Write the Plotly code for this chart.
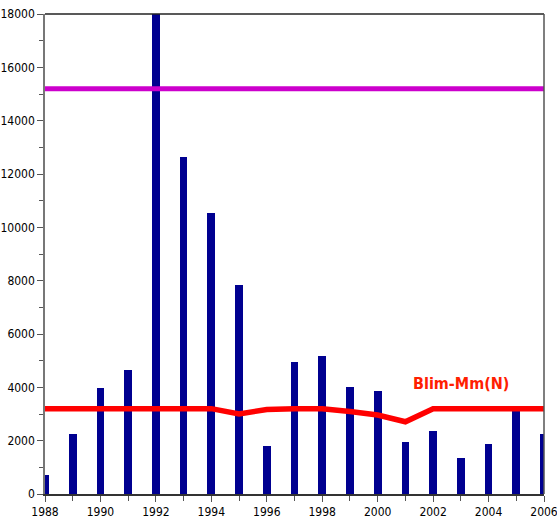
import plotly.graph_objects as go

years = list(range(1988, 2007))
recruits = [700, 2250, 3975, 4650, 18600, 12640, 10540, 7840, 1800, 4960,
            5185, 4025, 3875, 1940, 2360, 1360, 1875, 3150, 2240]
blim_mm = [3200, 3200, 3200, 3200, 3200, 3200, 3200, 3000, 3170, 3200,
           3200, 3090, 2960, 2710, 3200, 3200, 3200, 3200, 3200]
bpa_years = [1988, 2006]
bpa_values = [15200, 15200]
label_text = "<b>Blim-Mm(N)</b>"
label_pos = (2003.0, 4150)

font_family = "DejaVu Sans Condensed, Liberation Sans Narrow, Arial Narrow, Liberation Sans, Arial, sans-serif"

fig = go.Figure()
fig.add_trace(go.Bar(x=years, y=recruits, width=0.28,
                     marker=dict(color="#000090", line=dict(width=0)),
                     showlegend=False))
fig.add_trace(go.Scatter(x=years, y=blim_mm, mode="lines",
                         line=dict(color="#FF0000", width=5.5),
                         showlegend=False))
fig.add_trace(go.Scatter(x=bpa_years, y=bpa_values, mode="lines",
                         line=dict(color="#CC00CC", width=5),
                         showlegend=False))
fig.add_annotation(x=label_pos[0], y=label_pos[1], text=label_text, showarrow=False,
                   font=dict(color="#FF2000", size=16, family=font_family),
                   xanchor="center", yanchor="middle")

fig.update_layout(
    width=557, height=522,
    margin=dict(l=45, r=13, t=14, b=28, autoexpand=False),
    paper_bgcolor="white", plot_bgcolor="white",
    font=dict(family=font_family, size=12, color="black"),
    bargap=0,
    xaxis=dict(range=[1988, 2006], tickmode="linear", tick0=1988, dtick=2,
               tickformat="d", automargin=False, ticklabeloverflow="allow",
               ticks="outside", ticklen=6, tickcolor="#555", showgrid=False,
               zeroline=False, showline=True, linecolor="#333", linewidth=1.5,
               mirror=False,
               minor=dict(dtick=1, ticks="outside", ticklen=5, tickcolor="#555")),
    yaxis=dict(range=[0, 18000], tickmode="linear", tick0=0, dtick=2000,
               tickformat="d", automargin=False, ticklabeloverflow="allow",
               ticks="outside", ticklen=6, tickcolor="#555", showgrid=False,
               zeroline=False, showline=True, linecolor="#777", linewidth=1.5,
               minor=dict(dtick=1000, ticks="outside", ticklen=4, tickcolor="#555")),
)
# top and right frame lines
fig.add_shape(type="line", xref="paper", yref="paper", x0=0, x1=1, y0=1, y1=1,
              line=dict(color="#222", width=1.5))
fig.add_shape(type="line", xref="paper", yref="paper", x0=1, x1=1, y0=0, y1=1,
              line=dict(color="#555", width=1.5))

fig.write_html("out.html", config={"displayModeBar": False},
               post_script="document.body.style.margin='0';document.body.style.padding='0';")
